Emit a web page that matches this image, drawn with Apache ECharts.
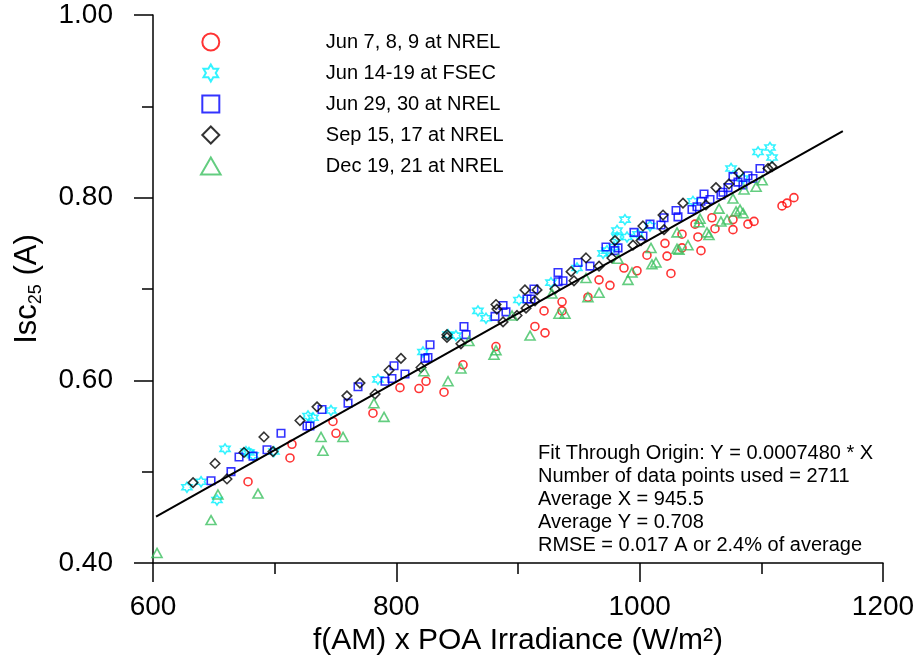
<!DOCTYPE html>
<html>
<head>
<meta charset="utf-8">
<script src="https://cdn.jsdelivr.net/npm/echarts@6/dist/echarts.min.js"></script>
<style>html,body{margin:0;padding:0;background:#fff}#c{width:920px;height:661px}</style>
</head>
<body>
<div id="c"></div>
<script>
// ---- data ----
const seriesNames = ['Jun 7, 8, 9 at NREL', 'Jun 14-19 at FSEC', 'Jun 29, 30 at NREL', 'Sep 15, 17 at NREL', 'Dec 19, 21 at NREL'];

const redX = [678.1,714.2,712.6,747.9,750.4,780.8,803.0,818.6,824.4,839.2,854.8,881.9,913.9,922.2,921.4,936.2,936.2,957.5,966.6,975.6,987.1,997.8,1006.0,1020.8,1022.5,1025.7,1034.8,1034.8,1045.5,1047.9,1050.4,1059.4,1061.9,1076.7,1076.7,1089.0,1094.0,1117.0,1121.1,1126.8];
const redY = [0.489,0.530,0.515,0.555,0.542,0.564,0.592,0.591,0.599,0.587,0.617,0.637,0.659,0.652,0.676,0.686,0.676,0.691,0.710,0.704,0.723,0.720,0.737,0.750,0.736,0.717,0.760,0.745,0.771,0.757,0.742,0.778,0.766,0.776,0.765,0.771,0.774,0.791,0.794,0.800];

const cyanX = [627.9,639.5,652.6,659.2,676.4,678.9,682.2,699.4,727.4,731.5,746.3,784.9,821.9,842.5,849.0,867.1,873.7,900.8,927.1,948.5,969.9,973.1,978.9,981.4,981.4,987.9,989.6,998.6,1008.5,1043.8,1075.1,1084.9,1097.3,1107.1,1108.8];
const cyanY = [0.483,0.489,0.469,0.525,0.522,0.521,0.518,0.522,0.561,0.559,0.567,0.601,0.631,0.650,0.649,0.676,0.668,0.688,0.707,0.723,0.739,0.742,0.746,0.757,0.764,0.776,0.757,0.760,0.769,0.796,0.832,0.821,0.850,0.855,0.844];

const blueX = [647.7,664.1,670.7,682.2,693.7,705.2,726.6,729.0,738.9,760.3,768.5,790.7,796.4,798.1,807.1,823.6,826.0,827.7,855.6,857.3,881.1,887.7,890.1,907.4,910.7,913.1,932.9,932.9,937.0,949.3,959.2,972.3,979.7,982.2,995.3,1002.7,1008.5,1020.0,1017.5,1029.9,1031.5,1043.0,1047.1,1050.4,1052.9,1057.8,1066.8,1068.5,1072.6,1076.7,1080.8,1084.9,1089.0,1093.1,1098.9];
const blueY = [0.490,0.500,0.516,0.517,0.524,0.542,0.550,0.550,0.568,0.575,0.593,0.599,0.602,0.616,0.607,0.624,0.625,0.639,0.659,0.650,0.670,0.682,0.675,0.689,0.689,0.700,0.718,0.708,0.709,0.729,0.725,0.746,0.742,0.745,0.762,0.758,0.771,0.778,0.770,0.786,0.779,0.787,0.790,0.796,0.804,0.798,0.803,0.806,0.811,0.823,0.817,0.814,0.824,0.821,0.832];

const blackX = [632.9,651.0,660.8,674.8,691.2,698.6,720.8,734.8,759.4,770.1,782.5,794.0,803.8,820.3,841.6,841.6,853.1,881.9,882.7,887.7,899.2,906.6,905.7,914.0,915.6,930.4,943.6,946.0,955.9,966.6,977.2,979.7,994.5,1001.1,1002.7,1019.2,1020.0,1035.6,1054.5,1062.7,1081.6,1073.4,1105.5,1108.8];
const blackY = [0.488,0.509,0.492,0.521,0.538,0.522,0.556,0.571,0.583,0.597,0.585,0.611,0.624,0.614,0.650,0.647,0.640,0.683,0.678,0.664,0.671,0.679,0.699,0.687,0.699,0.700,0.719,0.709,0.734,0.725,0.734,0.753,0.748,0.753,0.769,0.781,0.765,0.794,0.792,0.811,0.827,0.815,0.832,0.834];

const greenX = [603.3,647.7,653.4,686.3,738.1,739.7,756.2,789.9,781.6,822.7,842.5,853.1,859.7,881.9,880.3,895.1,909.9,927.9,933.7,938.6,957.5,966.6,955.9,990.4,993.7,982.2,1009.3,1010.1,1013.4,1030.7,1030.7,1032.3,1039.7,1048.8,1049.6,1055.3,1057.0,1065.2,1066.8,1071.8,1076.7,1079.2,1082.5,1085.0,1085.8,1095.7,1100.7];
const greenY = [0.411,0.447,0.475,0.476,0.538,0.523,0.538,0.560,0.575,0.610,0.599,0.613,0.643,0.633,0.628,0.671,0.649,0.695,0.673,0.673,0.691,0.696,0.712,0.710,0.718,0.733,0.745,0.727,0.729,0.762,0.744,0.743,0.748,0.773,0.777,0.762,0.759,0.788,0.774,0.776,0.799,0.785,0.787,0.783,0.809,0.812,0.819];

// fitted line through origin (end points)
const fitX = [602.5, 1167];
const fitY = [0.4507, 0.8729];

const statLines = [
  'Fit Through Origin: Y = 0.0007480 * X',
  'Number of data points used = 2711',
  'Average X = 945.5',
  'Average Y = 0.708',
  'RMSE = 0.017 A or 2.4% of average'
];

const xTicks = { min: 600, max: 1200, interval: 200 };
const yTicks = { min: 0.4, max: 1.0, interval: 0.2 };

// ---- build ----
const zip = (xs, ys) => xs.map((x, i) => [x, ys[i]]);
const FONT = "'Liberation Sans', Arial, Helvetica, sans-serif";
const starPath = 'path://M50,0L64.43,25L93.3,25L78.87,50L93.3,75L64.43,75L50,100L35.57,75L6.7,75L21.13,50L6.7,25L35.57,25Z';
const rectPath = 'path://M0,0L100,0L100,100L0,100Z';
const diamondPath = 'path://M50,0L100,50L50,100L0,50Z';
const trianglePath = 'path://M50,0L100,86.6L0,86.6Z';
const symbols = ['circle', starPath, rectPath, diamondPath, trianglePath];
const colors = ['#ff0000', '#00f0ff', '#0000ff', '#000000', '#3cc060'];
const sizes = [8, 10, 7.5, 9.5, [10, 9]];
const xsAll = [redX, cyanX, blueX, blackX, greenX];
const ysAll = [redY, cyanY, blueY, blackY, greenY];

const scatterSeries = seriesNames.map((name, i) => ({
  name: name, type: 'scatter', data: zip(xsAll[i], ysAll[i]),
  symbol: symbols[i], symbolSize: sizes[i],
  itemStyle: { color: 'rgba(255,255,255,0)', borderColor: colors[i], borderWidth: 1.6 },
  emphasis: { disabled: true }, z: 3
}));

const chart = echarts.init(document.getElementById('c'), null, { renderer: 'canvas' });
chart.setOption({
  animation: false,
  backgroundColor: '#fff',
  textStyle: { fontFamily: FONT },
  grid: { left: 153, right: 37, top: 15, bottom: 98, containLabel: false },
  title: {
    text: statLines.join('\n'), left: 533, top: 437,
    textStyle: { fontFamily: FONT, fontSize: 20, fontWeight: 'normal', lineHeight: 23, color: '#000' }
  },
  legend: {
    orient: 'vertical', left: 200, top: 32, padding: 0,
    itemWidth: 220, itemHeight: 17, itemGap: 11,
    data: seriesNames.map((n, i) => ({ name: n, icon: symbols[i] })),
    itemStyle: { borderWidth: 2 },
    textStyle: { fontFamily: FONT, fontSize: 20, color: '#000' },
    selectedMode: false
  },
  xAxis: {
    type: 'value', min: xTicks.min, max: xTicks.max, interval: xTicks.interval,
    name: 'f(AM) x POA Irradiance (W/m²)', nameLocation: 'middle', nameGap: 60,
    nameTextStyle: { fontFamily: FONT, fontSize: 30, color: '#000' },
    axisLine: { lineStyle: { color: '#000', width: 1.5 } },
    axisTick: { length: 19, lineStyle: { color: '#000', width: 1.5 } },
    minorTick: { show: true, splitNumber: 2, length: 11, lineStyle: { color: '#000', width: 1.5 } },
    axisLabel: { fontFamily: FONT, fontSize: 28, color: '#000', margin: 30, formatter: v => String(v) },
    splitLine: { show: false }
  },
  yAxis: {
    type: 'value', min: yTicks.min, max: yTicks.max, interval: yTicks.interval,
    name: '{a|Isc}{b|25}{a| (A)}', nameLocation: 'middle', nameGap: 108,
    nameTextStyle: {
      rich: {
        a: { fontFamily: FONT, fontSize: 31, color: '#000', lineHeight: 36 },
        b: { fontFamily: FONT, fontSize: 18, color: '#000', lineHeight: 19, verticalAlign: 'bottom' }
      }
    },
    axisLine: { lineStyle: { color: '#000', width: 1.5 } },
    axisTick: { length: 19, lineStyle: { color: '#000', width: 1.5 } },
    minorTick: { show: true, splitNumber: 2, length: 11, lineStyle: { color: '#000', width: 1.5 } },
    axisLabel: { fontFamily: FONT, fontSize: 28, color: '#000', margin: 40, formatter: v => v.toFixed(2) },
    splitLine: { show: false }
  },
  series: scatterSeries.concat([{
    name: 'fit', type: 'line', data: zip(fitX, fitY), symbol: 'none',
    lineStyle: { color: '#000', width: 2 }, z: 4, emphasis: { disabled: true }
  }])
});
</script>
</body>
</html>
